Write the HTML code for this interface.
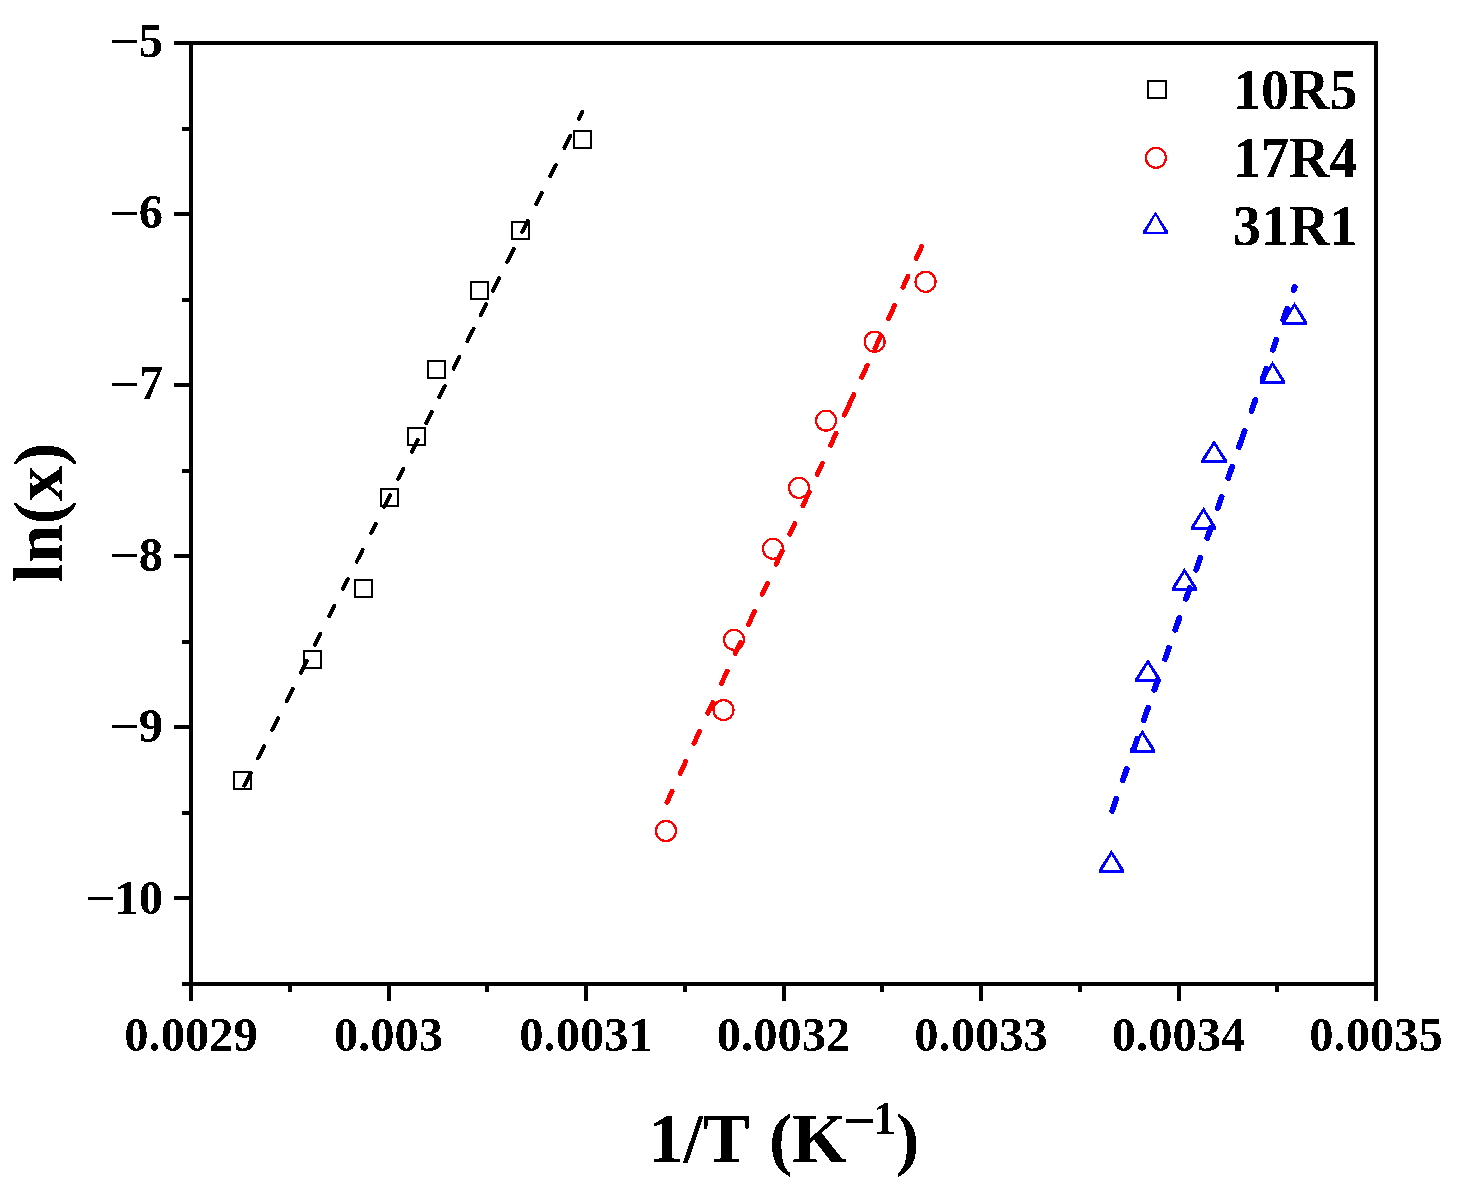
<!DOCTYPE html>
<html><head><meta charset="utf-8"><style>
html,body{margin:0;padding:0;background:#fff;overflow:hidden;}
svg{display:block;}
text{font-family:"Liberation Serif",serif;font-weight:bold;fill:#000;filter:url(#bin);}
</style></head><body>
<svg width="1460" height="1192" viewBox="0 0 1460 1192" shape-rendering="crispEdges">
<defs><filter id="bin" x="-0.1" y="-0.2" width="1.2" height="1.4" color-interpolation-filters="sRGB"><feComponentTransfer><feFuncA type="discrete" tableValues="0 1"/></feComponentTransfer></filter></defs>
<rect x="0" y="0" width="1460" height="1192" fill="#fff"/>

<path d="M578.95,119.00L582.46,112.00M564.49,147.80L570.46,135.90M550.33,176.00L555.85,165.00M536.32,203.90L541.84,192.90M522.36,231.70L527.63,221.20M507.30,261.70L513.63,249.10M492.69,290.80L499.12,278.00M480.59,314.90L486.06,304.00M467.48,341.00L473.56,328.90M453.58,368.70L459.45,357.00M439.42,396.90L444.94,385.90M426.36,422.90L431.89,411.90M411.90,451.70L417.78,440.00M398.25,478.90L403.27,468.90M384.29,506.70L390.16,495.00M371.08,533.00L375.60,524.00M356.67,561.70L362.60,549.90M342.97,589.00L347.99,579.00M329.41,616.00L334.48,605.90M314.95,644.80L320.42,633.90M300.79,673.00L306.87,660.90M286.73,701.00L292.71,689.10M272.27,729.80L278.15,718.10M258.01,758.20L264.09,746.10M244.26,785.60L250.58,773.00" stroke="#000" stroke-width="4.0" fill="none" stroke-linecap="round"/>
<path d="M916.16,258.55L921.75,246.35M902.96,287.35L908.00,276.35M888.71,318.45L894.67,305.45M874.92,348.55L880.92,335.45M861.73,377.35L867.22,365.35M844.41,415.15L853.89,394.45M830.62,445.25L836.07,433.35M817.24,474.45L822.32,463.35M802.94,505.65L809.22,491.95M789.79,534.35L794.83,523.35M776.09,564.25L782.10,551.15M762.35,594.25L767.39,583.25M748.56,624.35L754.51,611.35M735.27,653.35L740.40,642.15M721.53,683.35L727.11,671.15M707.83,713.25L712.73,702.55M693.99,743.45L699.44,731.55M680.15,773.65L685.74,761.45M666.91,802.55L672.04,791.35" stroke="#f00" stroke-width="4.9" fill="none" stroke-linecap="round"/>
<path d="M1293.68,290.10L1294.79,286.90M1283.22,320.10L1287.16,308.80M1272.87,349.80L1276.32,339.90M1262.65,379.10L1266.21,368.90M1251.53,411.00L1255.33,400.10M1238.99,447.00L1244.60,430.90M1228.18,478.00L1232.08,466.80M1217.72,508.00L1221.63,496.80M1207.23,538.10L1210.86,527.70M1196.18,569.80L1200.43,557.60M1186.04,598.90L1189.80,588.10M1175.27,629.80L1179.35,618.10M1165.05,659.10L1168.96,647.90M1154.35,689.80L1157.80,679.90M1143.83,720.00L1148.04,707.90M1133.68,749.10L1137.24,738.90M1122.88,780.10L1126.82,768.80M1112.14,810.90L1116.36,798.80" stroke="#00f" stroke-width="5.8" fill="none" stroke-linecap="round"/>
<rect x="234.45" y="771.95" width="17" height="17" fill="none" stroke="#000" stroke-width="2.0"/>
<rect x="303.55" y="651.40" width="17" height="17" fill="none" stroke="#000" stroke-width="2.0"/>
<rect x="355.00" y="579.95" width="17" height="17" fill="none" stroke="#000" stroke-width="2.0"/>
<rect x="381.00" y="489.00" width="17" height="17" fill="none" stroke="#000" stroke-width="2.0"/>
<rect x="408.00" y="427.95" width="17" height="17" fill="none" stroke="#000" stroke-width="2.0"/>
<rect x="427.50" y="361.25" width="17" height="17" fill="none" stroke="#000" stroke-width="2.0"/>
<rect x="470.50" y="282.00" width="17" height="17" fill="none" stroke="#000" stroke-width="2.0"/>
<rect x="512.45" y="222.40" width="17" height="17" fill="none" stroke="#000" stroke-width="2.0"/>
<rect x="574.10" y="130.85" width="17" height="17" fill="none" stroke="#000" stroke-width="2.0"/>
<circle cx="666" cy="831" r="10" fill="none" stroke="#f00" stroke-width="2.2"/>
<circle cx="723.5" cy="710.05" r="10" fill="none" stroke="#f00" stroke-width="2.2"/>
<circle cx="734" cy="639.8" r="10" fill="none" stroke="#f00" stroke-width="2.2"/>
<circle cx="772.95" cy="548.75" r="10" fill="none" stroke="#f00" stroke-width="2.2"/>
<circle cx="799" cy="487.9" r="10" fill="none" stroke="#f00" stroke-width="2.2"/>
<circle cx="826.05" cy="420.65" r="10" fill="none" stroke="#f00" stroke-width="2.2"/>
<circle cx="874.6" cy="341.75" r="10" fill="none" stroke="#f00" stroke-width="2.2"/>
<circle cx="925.55" cy="281.85" r="10" fill="none" stroke="#f00" stroke-width="2.2"/>
<path d="M1111.44,850.00L1124.34,870.10L1124.34,872.90L1098.54,872.90L1098.54,870.10ZM1111.44,855.00L1120.34,869.90L1102.54,869.90Z" fill="#00f" fill-rule="evenodd"/>
<path d="M1142.45,729.80L1155.35,749.90L1155.35,752.70L1129.55,752.70L1129.55,749.90ZM1142.45,734.80L1151.35,749.70L1133.55,749.70Z" fill="#00f" fill-rule="evenodd"/>
<path d="M1147.90,658.90L1160.80,679.00L1160.80,681.80L1135.00,681.80L1135.00,679.00ZM1147.90,663.90L1156.80,678.80L1139.00,678.80Z" fill="#00f" fill-rule="evenodd"/>
<path d="M1184.45,568.00L1197.35,588.10L1197.35,590.90L1171.55,590.90L1171.55,588.10ZM1184.45,573.00L1193.35,587.90L1175.55,587.90Z" fill="#00f" fill-rule="evenodd"/>
<path d="M1203.55,507.00L1216.45,527.10L1216.45,529.90L1190.65,529.90L1190.65,527.10ZM1203.55,512.00L1212.45,526.90L1194.65,526.90Z" fill="#00f" fill-rule="evenodd"/>
<path d="M1214.05,440.00L1226.95,460.10L1226.95,462.90L1201.15,462.90L1201.15,460.10ZM1214.05,445.00L1222.95,459.90L1205.15,459.90Z" fill="#00f" fill-rule="evenodd"/>
<path d="M1272.55,361.10L1285.45,381.20L1285.45,384.00L1259.65,384.00L1259.65,381.20ZM1272.55,366.10L1281.45,381.00L1263.65,381.00Z" fill="#00f" fill-rule="evenodd"/>
<path d="M1294.50,302.00L1307.40,322.10L1307.40,324.90L1281.60,324.90L1281.60,322.10ZM1294.50,307.00L1303.40,321.90L1285.60,321.90Z" fill="#00f" fill-rule="evenodd"/>
<rect x="191" y="43" width="1185" height="941" fill="none" stroke="#000" stroke-width="4"/>
<line x1="174" y1="43.00" x2="191" y2="43.00" stroke="#000" stroke-width="4"/>
<text x="163" y="56.50" font-size="48.5" text-anchor="end">5</text>
<rect x="112" y="39.90" width="25" height="3" fill="#000"/>
<line x1="182" y1="128.55" x2="191" y2="128.55" stroke="#000" stroke-width="4"/>
<line x1="174" y1="214.09" x2="191" y2="214.09" stroke="#000" stroke-width="4"/>
<text x="163" y="227.99" font-size="48.5" text-anchor="end">6</text>
<rect x="112" y="211.89" width="25" height="3" fill="#000"/>
<line x1="182" y1="299.64" x2="191" y2="299.64" stroke="#000" stroke-width="4"/>
<line x1="174" y1="385.18" x2="191" y2="385.18" stroke="#000" stroke-width="4"/>
<text x="163" y="399.48" font-size="48.5" text-anchor="end">7</text>
<rect x="112" y="382.98" width="25" height="3" fill="#000"/>
<line x1="182" y1="470.73" x2="191" y2="470.73" stroke="#000" stroke-width="4"/>
<line x1="174" y1="556.27" x2="191" y2="556.27" stroke="#000" stroke-width="4"/>
<text x="163" y="570.97" font-size="48.5" text-anchor="end">8</text>
<rect x="112" y="554.07" width="25" height="3" fill="#000"/>
<line x1="182" y1="641.82" x2="191" y2="641.82" stroke="#000" stroke-width="4"/>
<line x1="174" y1="727.36" x2="191" y2="727.36" stroke="#000" stroke-width="4"/>
<text x="163" y="742.46" font-size="48.5" text-anchor="end">9</text>
<rect x="112" y="725.16" width="25" height="3" fill="#000"/>
<line x1="182" y1="812.91" x2="191" y2="812.91" stroke="#000" stroke-width="4"/>
<line x1="174" y1="898.45" x2="191" y2="898.45" stroke="#000" stroke-width="4"/>
<text x="163" y="913.95" font-size="48.5" text-anchor="end">10</text>
<rect x="88" y="896.85" width="25" height="3" fill="#000"/>
<line x1="182" y1="984.00" x2="191" y2="984.00" stroke="#000" stroke-width="4"/>
<line x1="191.00" y1="984" x2="191.00" y2="1001" stroke="#000" stroke-width="4"/>
<text x="191.00" y="1051" font-size="48.5" text-anchor="middle">0.0029</text>
<line x1="289.75" y1="984" x2="289.75" y2="992" stroke="#000" stroke-width="4"/>
<line x1="388.50" y1="984" x2="388.50" y2="1001" stroke="#000" stroke-width="4"/>
<text x="388.50" y="1051" font-size="48.5" text-anchor="middle">0.003</text>
<line x1="487.25" y1="984" x2="487.25" y2="992" stroke="#000" stroke-width="4"/>
<line x1="586.00" y1="984" x2="586.00" y2="1001" stroke="#000" stroke-width="4"/>
<text x="586.00" y="1051" font-size="48.5" text-anchor="middle">0.0031</text>
<line x1="684.75" y1="984" x2="684.75" y2="992" stroke="#000" stroke-width="4"/>
<line x1="783.50" y1="984" x2="783.50" y2="1001" stroke="#000" stroke-width="4"/>
<text x="783.50" y="1051" font-size="48.5" text-anchor="middle">0.0032</text>
<line x1="882.25" y1="984" x2="882.25" y2="992" stroke="#000" stroke-width="4"/>
<line x1="981.00" y1="984" x2="981.00" y2="1001" stroke="#000" stroke-width="4"/>
<text x="981.00" y="1051" font-size="48.5" text-anchor="middle">0.0033</text>
<line x1="1079.75" y1="984" x2="1079.75" y2="992" stroke="#000" stroke-width="4"/>
<line x1="1178.50" y1="984" x2="1178.50" y2="1001" stroke="#000" stroke-width="4"/>
<text x="1178.50" y="1051" font-size="48.5" text-anchor="middle">0.0034</text>
<line x1="1277.25" y1="984" x2="1277.25" y2="992" stroke="#000" stroke-width="4"/>
<line x1="1376.00" y1="984" x2="1376.00" y2="1001" stroke="#000" stroke-width="4"/>
<text x="1376.00" y="1051" font-size="48.5" text-anchor="middle">0.0035</text>
<rect x="1148.25" y="80.55" width="17.5" height="17.5" fill="none" stroke="#000" stroke-width="2.0"/>
<circle cx="1155.9" cy="157.8" r="10" fill="none" stroke="#f00" stroke-width="2.2"/>
<path d="M1155.50,211.90L1168.05,231.00L1168.05,233.90L1142.95,233.90L1142.95,231.00ZM1155.50,215.70L1164.60,231.90L1146.40,231.90Z" fill="#00f" fill-rule="evenodd"/>
<text x="1233" y="108.5" font-size="56">10R5</text>
<text x="1233" y="176.5" font-size="56">17R4</text>
<text x="1233" y="245" font-size="56">31R1</text>
<text transform="translate(62,512.7) rotate(-90)" font-size="70" text-anchor="middle">ln(x)</text>
<text x="648.5" y="1162" font-size="70">1/T</text>
<text x="769" y="1162" font-size="70">(K</text>
<rect x="846" y="1119" width="27" height="4" fill="#000"/>
<text x="873" y="1134" font-size="46">1</text>
<text x="896" y="1162" font-size="70">)</text>
</svg>
</body></html>
